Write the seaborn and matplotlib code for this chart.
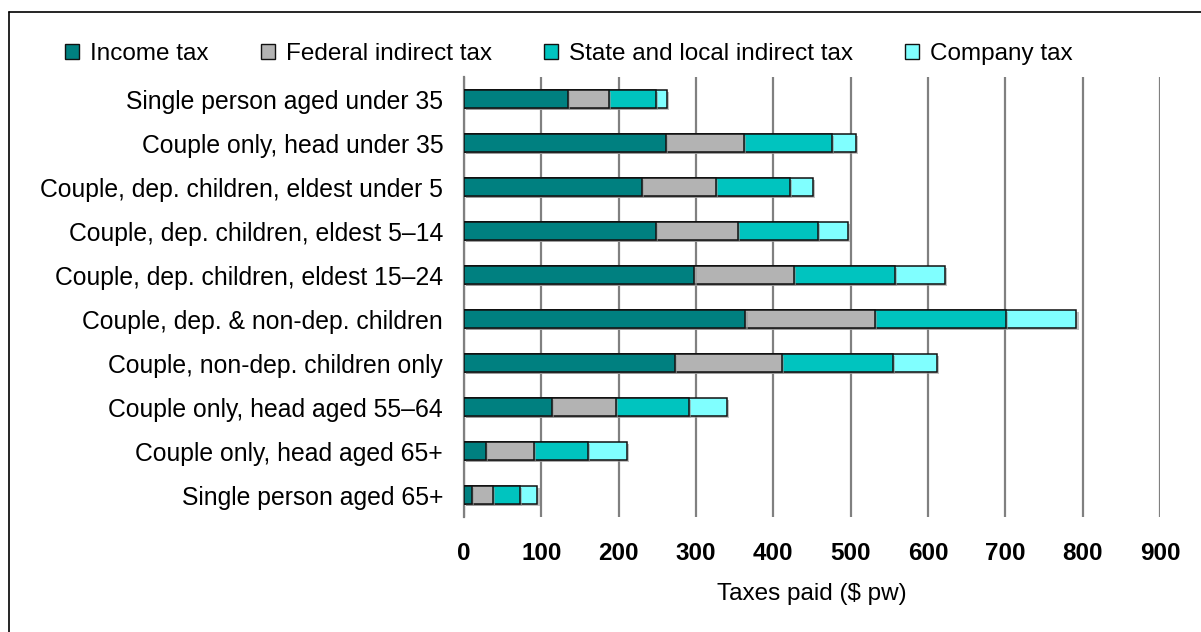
import numpy as np
import pandas as pd
import matplotlib
matplotlib.use("Agg")
import matplotlib.pyplot as plt
import matplotlib.patches as mpatches
import matplotlib.patheffects as pe
import seaborn as sns

categories = [
    "Single person aged under 35",
    "Couple only, head under 35",
    "Couple, dep. children, eldest under 5",
    "Couple, dep. children, eldest 5\u201314",
    "Couple, dep. children, eldest 15\u201324",
    "Couple, dep. & non-dep. children",
    "Couple, non-dep. children only",
    "Couple only, head aged 55\u201364",
    "Couple only, head aged 65+",
    "Single person aged 65+",
]
income_tax = [134, 261, 230, 248, 298, 364, 273, 114, 28, 10]
federal_indirect = [54, 101, 96, 106, 129, 167, 138, 83, 62, 28]
state_local_indirect = [60, 114, 96, 104, 130, 170, 144, 94, 70, 34]
company_tax = [15, 31, 29, 39, 65, 91, 57, 49, 51, 23]

series_names = ["Income tax", "Federal indirect tax",
                "State and local indirect tax", "Company tax"]
series_values = [income_tax, federal_indirect, state_local_indirect, company_tax]
series_colors = ["#008080", "#B3B3B3", "#00C4BF", "#80FFFF"]
x_ticks = [0, 100, 200, 300, 400, 500, 600, 700, 800, 900]

sns.set_theme(style="white")
plt.rcParams["font.family"] = ["Liberation Sans", "DejaVu Sans"]
plt.rcParams["text.color"] = "black"
plt.rcParams["axes.labelcolor"] = "black"
plt.rcParams["xtick.color"] = "black"
plt.rcParams["ytick.color"] = "black"

FS = 17.8
W, H = 1201, 632
fig = plt.figure(figsize=(W / 100, H / 100), dpi=100)
ax = fig.add_axes([464 / W, 1 - 517 / H, (1160 - 464) / W, (517 - 77) / H])

# Stacked segments: draw running totals from the longest down, each on top
cum = np.cumsum(np.array(series_values), axis=0)
shadow = [pe.SimplePatchShadow(offset=(1.5, -1.5), shadow_rgbFace="#999999", alpha=0.6),
          pe.Normal()]
for i in range(len(series_names) - 1, -1, -1):
    df = pd.DataFrame({"category": categories, "total": cum[i]})
    sns.barplot(data=df, x="total", y="category", order=categories, orient="h",
                color=series_colors[i], saturation=1, width=0.41,
                edgecolor="#111111", linewidth=1.1, ax=ax, zorder=3)
for p in ax.patches:
    p.set_path_effects(shadow)

ax.set_xlim(0, 900)
ax.set_ylim(len(categories) - 0.5, -0.5)
ax.set_xticks(x_ticks)
ax.set_xticklabels([str(t) for t in x_ticks], fontsize=17.5, fontweight="bold")
ax.tick_params(axis="x", length=0, pad=18)
ax.tick_params(axis="y", length=0, pad=15, labelsize=FS)
ax.set_ylabel("")
ax.set_xlabel("Taxes paid ($ pw)", fontsize=17.5, labelpad=13)

ax.xaxis.grid(True, color="#808080", linewidth=1.6, zorder=0)
ax.set_axisbelow(True)
for side in ["top", "right", "bottom"]:
    ax.spines[side].set_visible(False)
ax.spines["left"].set_color("#808080")
ax.spines["left"].set_linewidth(1.6)

handles = [mpatches.Patch(facecolor=c, edgecolor="#111111", linewidth=1.0)
           for c in series_colors]
fig.legend(handles, series_names, loc="center left",
           bbox_to_anchor=(65 / W, 1 - 54 / H), ncol=4, frameon=False,
           fontsize=17.5, handlelength=0.58, handleheight=0.58,
           handletextpad=0.45, columnspacing=2.15, borderaxespad=0, borderpad=0)

# Outer frame line along the left and top
fig.add_artist(plt.Line2D([9 / W, 9 / W], [0, 1 - 12 / H], transform=fig.transFigure,
                          color="black", linewidth=1.2))
fig.add_artist(plt.Line2D([9 / W, 1], [1 - 12 / H, 1 - 12 / H], transform=fig.transFigure,
                          color="black", linewidth=1.2))

fig.savefig("out.png", dpi=100)
